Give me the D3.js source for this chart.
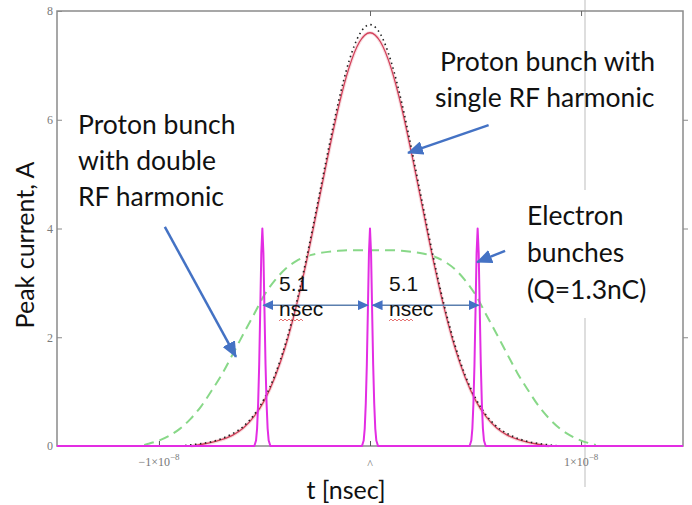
<!DOCTYPE html>
<html><head><meta charset="utf-8">
<script src="https://cdn.jsdelivr.net/npm/d3@7"></script>
<style>body{margin:0;background:#fff}</style>
</head><body>
<svg id="c" width="692" height="505"></svg>
<script>
// ---------- data (time in ns, current in A) ----------
const xTicks = [-1e-8, 0, 1e-8];
const yTicks = [0, 2, 4, 6, 8];
const xTickMant = ["\u22121\u00d710", "^", "1\u00d710"];
const xTickExp = ["\u22128", "", "\u22128"];

const greenT = [-10.7,-10.5,-10,-9.5,-9,-8.5,-8,-7.5,-7,-6.5,-6,-5.5,-5,-4.5,-4,-3.5,-3,-2.5,-2,-1.5,-1,-0.5,0,0.5,1,1.5,2,2.5,3,3.5,4,4.5,5,5.5,6,6.5,7,7.5,8,8.5,9,9.5,10,10.5,10.7];
const greenI = [0.02,0.04,0.10,0.19,0.32,0.50,0.73,1.02,1.33,1.69,2.06,2.42,2.78,3.05,3.26,3.40,3.49,3.54,3.57,3.59,3.60,3.60,3.60,3.60,3.60,3.59,3.57,3.54,3.49,3.40,3.26,3.05,2.78,2.42,2.06,1.69,1.33,1.02,0.73,0.50,0.32,0.19,0.10,0.04,0.02];

const redT = [-8.5,-8,-7.5,-7,-6.5,-6,-5.5,-5,-4.5,-4,-3.5,-3,-2.5,-2,-1.5,-1,-0.5,0,0.5,1,1.5,2,2.5,3,3.5,4,4.5,5,5.5,6,6.5,7,7.5,8,8.5];
const redI = [0,0.03,0.065,0.12,0.20,0.33,0.54,0.84,1.27,1.84,2.56,3.41,4.36,5.32,6.22,6.95,7.43,7.60,7.43,6.95,6.22,5.32,4.36,3.41,2.56,1.84,1.27,0.84,0.54,0.33,0.20,0.12,0.065,0.03,0];

const dotT = [-9,-8.5,-8,-7.5,-7,-6.5,-6,-5.5,-5,-4.5,-4,-3.5,-3,-2.5,-2,-1.5,-1,-0.5,0,0.5,1,1.5,2,2.5,3,3.5,4,4.5,5,5.5,6,6.5,7,7.5,8,8.5,9];
const dotI = [0,0.02,0.045,0.08,0.14,0.23,0.36,0.57,0.88,1.31,1.89,2.61,3.47,4.43,5.40,6.32,7.07,7.57,7.75,7.57,7.07,6.32,5.40,4.43,3.47,2.61,1.89,1.31,0.88,0.57,0.36,0.23,0.14,0.08,0.045,0.02,0];

const electronCenters = [-5.1, 0, 5.1];
const spikeOffsets = [-0.38,-0.3,-0.25,-0.2,-0.15,-0.1,-0.05,0,0.05,0.1,0.15,0.2,0.25,0.3,0.38];
const spikeShape   = [0,0.1,0.32,0.78,1.5,2.5,3.55,4.0,3.55,2.5,1.5,0.78,0.32,0.1,0];

// ---------- layout ----------
const svg = d3.select("#c");
const L = 57, R = 683, T = 11, B = 446;
const x = d3.scaleLinear().domain([-1.483e-8, 1.483e-8]).range([L, R]);
const y = d3.scaleLinear().domain([0, 8]).range([B, T]);
const ns = 1e-9;

// background artifact line
svg.append("line").attr("x1", 585).attr("x2", 585).attr("y1", 0).attr("y2", 487)
  .attr("stroke", "#dedede").attr("stroke-width", 2);

// frame
svg.append("rect").attr("x", L).attr("y", T).attr("width", R - L).attr("height", B - T)
  .attr("fill", "none").attr("stroke", "#8a8a8a").attr("stroke-width", 1.5);

// axes ticks
const gl = svg.append("g").attr("transform", `translate(${L},0)`)
  .call(d3.axisLeft(y).tickValues(yTicks).tickSize(-5).tickPadding(4));
gl.select(".domain").remove();
gl.selectAll("line").attr("stroke", "#8a8a8a");
gl.selectAll("text").attr("font-family", "Liberation Serif").attr("font-size", 12).attr("fill", "#7a7a7a");

const gr = svg.append("g").attr("transform", `translate(${R},0)`)
  .call(d3.axisRight(y).tickValues(yTicks.slice(1, 4)).tickSize(5).tickFormat(""));
gr.select(".domain").remove();
gr.selectAll("line").attr("stroke", "#8a8a8a");

const gb = svg.append("g").attr("transform", `translate(0,${B})`)
  .call(d3.axisBottom(x).tickValues(xTicks).tickSize(-5).tickFormat(""));
gb.select(".domain").remove();
gb.selectAll("line").attr("stroke", "#555");

const gt = svg.append("g").attr("transform", `translate(0,${T})`)
  .call(d3.axisTop(x).tickValues(xTicks.slice(1)).tickSize(-5).tickFormat(""));
gt.select(".domain").remove();
gt.selectAll("line").attr("stroke", "#666");

// x tick labels with superscripts
xTicks.forEach((v, i) => {
  const t = svg.append("text").attr("x", x(v)).attr("y", i === 1 ? 468 : 466)
    .attr("text-anchor", "middle").attr("font-family", "Liberation Serif")
    .attr("font-size", 12).attr("fill", "#777");
  t.append("tspan").text(xTickMant[i]);
  if (xTickExp[i]) t.append("tspan").attr("dy", -6).attr("font-size", 9).text(xTickExp[i]);
});

// ---------- curves ----------
const line = d3.line().x(d => x(d[0] * ns)).y(d => y(d[1])).curve(d3.curveMonotoneX);
const lin = d3.line().x(d => x(d[0] * ns)).y(d => y(d[1]));

svg.append("path").datum(greenT.map((t, i) => [t, greenI[i]])).attr("d", line)
  .attr("fill", "none").attr("stroke", "#88d888").attr("stroke-width", 2).attr("stroke-dasharray", "10,6");

svg.append("path").datum(redT.map((t, i) => [t, redI[i]])).attr("d", line)
  .attr("fill", "none").attr("stroke", "#f8dde0").attr("stroke-width", 3.5);
svg.append("path").datum(redT.map((t, i) => [t, redI[i]])).attr("d", line)
  .attr("fill", "none").attr("stroke", "#d2405a").attr("stroke-width", 1.3);
svg.append("path").datum(dotT.map((t, i) => [t, dotI[i]])).attr("d", line)
  .attr("fill", "none").attr("stroke", "#222").attr("stroke-width", 1.6).attr("stroke-dasharray", "1.5,3.5");

const ePts = [[x.invert(L) / ns, 0]];
electronCenters.forEach(c => spikeOffsets.forEach((o, j) => ePts.push([c + o, spikeShape[j]])));
ePts.push([x.invert(R) / ns, 0]);
svg.append("path").datum(ePts).attr("d", lin)
  .attr("fill", "none").attr("stroke", "#e32de3").attr("stroke-width", 2).attr("stroke-linejoin", "round");

// ---------- annotations ----------
const defs = svg.append("defs");
defs.append("marker").attr("id", "ah").attr("markerUnits", "userSpaceOnUse")
  .attr("markerWidth", 16).attr("markerHeight", 14).attr("refX", 15).attr("refY", 7)
  .attr("orient", "auto").append("path").attr("d", "M0,0 L16,7 L0,14 Z").attr("fill", "#4472c4");
defs.append("marker").attr("id", "sh").attr("markerUnits", "userSpaceOnUse")
  .attr("markerWidth", 11).attr("markerHeight", 10).attr("refX", 10).attr("refY", 5)
  .attr("orient", "auto-start-reverse").append("path").attr("d", "M0,0 L11,5 L0,10 Z").attr("fill", "#4472c4");

const arrows = [ // [tailT, tailI, tipT, tipI] in ns / A
  [5.62, 5.90, 1.80, 5.39],
  [-9.72, 4.03, -6.35, 1.64],
  [6.40, 3.59, 5.07, 3.38]
];
arrows.forEach(a => svg.append("line")
  .attr("x1", x(a[0] * ns)).attr("y1", y(a[1])).attr("x2", x(a[2] * ns)).attr("y2", y(a[3]))
  .attr("stroke", "#4472c4").attr("stroke-width", 2.5).attr("marker-end", "url(#ah)"));

const spans = [[-5.05, -0.1], [0.12, 5.15]];
spans.forEach(s => svg.append("line")
  .attr("x1", x(s[0] * ns)).attr("x2", x(s[1] * ns)).attr("y1", y(2.59)).attr("y2", y(2.59))
  .attr("stroke", "#5b7fae").attr("stroke-width", 1.5)
  .attr("marker-start", "url(#sh)").attr("marker-end", "url(#sh)"));

// 5.1 nsec labels
[[279, "5.1"], [389, "5.1"]].forEach(d => svg.append("text").attr("x", d[0]).attr("y", 291)
  .attr("font-family", "Liberation Sans").attr("font-size", 21).attr("fill", "#111").text(d[1]));
[279, 389].forEach(px => {
  svg.append("text").attr("x", px).attr("y", 316).attr("font-family", "Liberation Sans")
    .attr("font-size", 21).attr("fill", "#111").text("nsec");
  let dpath = `M${px},321`;
  for (let k = 0; k < 12; k++) dpath += ` l2,${k % 2 ? 2 : -2}`;
  svg.append("path").attr("d", dpath).attr("fill", "none").attr("stroke", "#e05050").attr("stroke-width", 0.8);
});

// white box behind electron label
svg.append("rect").attr("x", 520).attr("y", 190).attr("width", 150).attr("height", 128).attr("fill", "#fff");

const big = (tx, ty, str) => svg.append("text").attr("x", tx).attr("y", ty)
  .attr("font-family", "Lato, 'Open Sans', sans-serif").attr("font-size", 26.5).attr("fill", "#111").text(str);
big(440, 71, "Proton bunch with");
big(435, 107, "single RF harmonic");
big(78, 134, "Proton bunch");
big(78, 170, "with double");
big(78, 206, "RF harmonic");
big(527, 225, "Electron");
big(527, 262, "bunches");
big(527, 299, "(Q=1.3nC)");

svg.append("text").attr("transform", "translate(34,245) rotate(-90)").attr("text-anchor", "middle")
  .attr("font-family", "Lato, 'Open Sans', sans-serif").attr("font-size", 25).attr("fill", "#111").text("Peak current, A");
svg.append("text").attr("x", 346).attr("y", 499).attr("text-anchor", "middle")
  .attr("font-family", "Lato, 'Open Sans', sans-serif").attr("font-size", 25).attr("fill", "#111").text("t [nsec]");
</script>
</body></html>
